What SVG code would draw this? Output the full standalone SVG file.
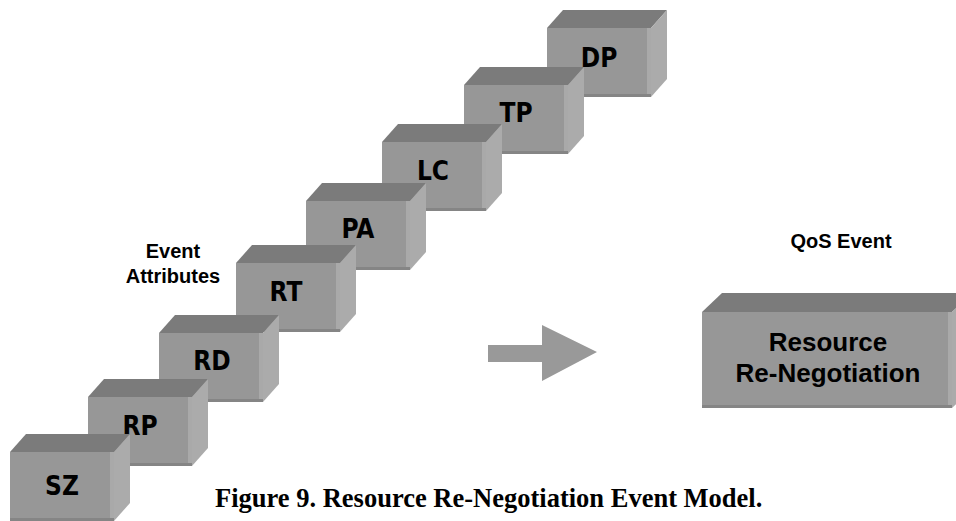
<svg xmlns="http://www.w3.org/2000/svg" xmlns:xlink="http://www.w3.org/1999/xlink" width="956" height="521" viewBox="0 0 956 521">
<style>
.top{fill:#7b7b7b}
.front{fill:#979797}
.side{fill:#ababab}
.rs{fill:#a9a9a9}
.bs{fill:#858585}
.lbl{font-family:"Liberation Sans Narrow","DejaVu Sans Condensed","Liberation Sans",sans-serif;font-stretch:condensed;font-weight:bold;font-size:26px;fill:#000;text-anchor:middle}
.ann{font-family:"Liberation Sans",Arial,sans-serif;font-weight:bold;font-size:20px;fill:#000;text-anchor:middle}
.big{font-family:"Liberation Sans",Arial,sans-serif;font-weight:bold;font-size:26px;fill:#000;text-anchor:middle}
.cap{font-family:"Liberation Serif","Times New Roman",serif;font-weight:bold;font-size:26.5px;fill:#000}
</style>
<defs>
<g id="cube">
<polygon class="top" points="0,0 16,-18 120,-18 104,0"/>
<polygon class="side" points="104,0 120,-18 120,51 104,69"/>
<rect class="front" x="0" y="0" width="104" height="69"/>
<rect class="rs" x="100" y="0" width="4" height="69"/>
<rect class="bs" x="0" y="66" width="104" height="3"/>
</g>
</defs>
<g id="node-DP"><use xlink:href="#cube" href="#cube" x="547" y="28"/><text class="lbl" x="599" y="67">DP</text></g>
<g id="node-TP"><use xlink:href="#cube" href="#cube" x="464" y="85"/><text class="lbl" x="516" y="122">TP</text></g>
<g id="node-LC"><use xlink:href="#cube" href="#cube" x="382" y="142"/><text class="lbl" x="433" y="180">LC</text></g>
<g id="node-PA"><use xlink:href="#cube" href="#cube" x="306" y="201"/><text class="lbl" x="358" y="238">PA</text></g>
<g id="node-RT"><use xlink:href="#cube" href="#cube" x="236" y="263"/><text class="lbl" x="286" y="301">RT</text></g>
<g id="node-RD"><use xlink:href="#cube" href="#cube" x="159" y="333"/><text class="lbl" x="212" y="370">RD</text></g>
<g id="node-RP"><use xlink:href="#cube" href="#cube" x="88" y="397"/><text class="lbl" x="140" y="435">RP</text></g>
<g id="node-SZ"><use xlink:href="#cube" href="#cube" x="10" y="452"/><text class="lbl" x="62" y="495">SZ</text></g>
<g id="label-attributes"><text class="ann" x="173" y="258">Event</text><text class="ann" x="173" y="283">Attributes</text></g>
<g id="label-qos"><text class="ann" x="841" y="248">QoS Event</text></g>
<g id="connectors">
<polygon points="488,345 542,345 542,325 597,352 542,381 542,362 488,362" fill="#999999"/>
</g>
<g id="node-resource">
<polygon class="top" points="702,312 722,293 972,293 952,312"/>
<polygon class="side" points="952,312 972,293 972,389 952,408"/>
<rect class="front" x="702" y="312" width="250" height="96"/>
<rect class="rs" x="948" y="312" width="4" height="96"/>
<rect class="bs" x="702" y="405" width="250" height="3"/>
<text class="big" x="828" y="351">Resource</text>
<text class="big" x="828" y="382">Re-Negotiation</text>
</g>
<text class="cap" x="215" y="507">Figure 9. Resource Re-Negotiation Event Model.</text>
</svg>
